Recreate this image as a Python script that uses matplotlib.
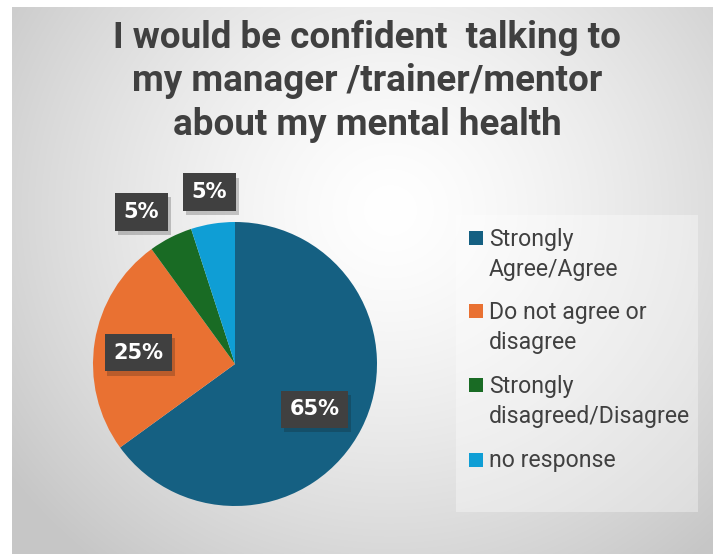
import matplotlib
matplotlib.use("Agg")
import matplotlib.pyplot as plt
import matplotlib.patheffects as pe
from matplotlib.patches import Rectangle
import numpy as np

title = "I would be confident  talking to\nmy manager /trainer/mentor\nabout my mental health"
categories = ["Strongly\nAgree/Agree", "Do not agree or\ndisagree",
              "Strongly\ndisagreed/Disagree", "no response"]
shares = [65, 25, 5, 5]
colors = ["#156082", "#E97132", "#196B24", "#0F9ED5"]
# where each percentage box sits, in pie units
label_pos = [(0.56, -0.32), (-0.68, 0.08), (-0.66, 1.07), (-0.18, 1.21)]

W, H = 721, 554
fig = plt.figure(figsize=(W / 100, H / 100), dpi=100)
fig.patch.set_facecolor("white")

# radial grey gradient behind everything
bg = fig.add_axes([12 / W, 0, (713 - 12) / W, (554 - 7) / H])
bg.set_axis_off()
yy, xx = np.mgrid[7:554, 12:713]
d = np.hypot(xx - 390, (yy - 210) * 1.05) / 470
t = np.clip(d, 0, 1) ** 1.4
img = 1.0 - 0.22 * t[..., None] * np.ones(3)
bg.imshow(img, aspect="auto", extent=(0, 1, 0, 1), zorder=0)
bg.set_xlim(0, 1)
bg.set_ylim(0, 1)

fig.text(367 / W, 1 - 81 / H, title, ha="center", va="center",
         fontsize=26.5, fontweight="bold", color="#404040",
         family=["Roboto", "DejaVu Sans"], linespacing=1.27)

cx, cy, r = 235, 364, 142
ax = fig.add_axes([(cx - r) / W, (H - cy - r) / H, 2 * r / W, 2 * r / H])
ax.pie(shares, colors=colors, startangle=90, counterclock=False,
       radius=1, wedgeprops=dict(linewidth=0))
ax.set_xlim(-1, 1)
ax.set_ylim(-1, 1)
ax.set_aspect("equal")

for v, (x, y) in zip(shares, label_pos):
    txt = ax.text(x, y, f"{v}%", ha="center", va="center", fontsize=15,
                  fontweight="bold", color="white",
                  bbox=dict(boxstyle="square,pad=0.42", facecolor="#404040",
                            edgecolor="none", linewidth=0))
    txt.get_bbox_patch().set_path_effects(
        [pe.SimplePatchShadow(offset=(2, -3), alpha=0.22), pe.Normal()])

# legend box on the right, one square + label per category
fig.patches.append(Rectangle((456 / W, 1 - 512 / H), 242 / W, 297 / H,
                             transform=fig.transFigure, facecolor="white",
                             alpha=0.35, edgecolor="none", zorder=1))
entry_y = [238, 311, 385, 460]
for lab, col, y in zip(categories, colors, entry_y):
    fig.patches.append(Rectangle((469 / W, 1 - (y + 6.5) / H), 13.5 / W, 13.5 / H,
                                 transform=fig.transFigure, facecolor=col,
                                 edgecolor="none", zorder=2))
    fig.text(489 / W, 1 - (y - 10.5) / H, lab, ha="left", va="top",
             fontsize=16.6, color="#404040", family="Roboto",
             linespacing=1.42)

fig.savefig("out.png", dpi=100)
